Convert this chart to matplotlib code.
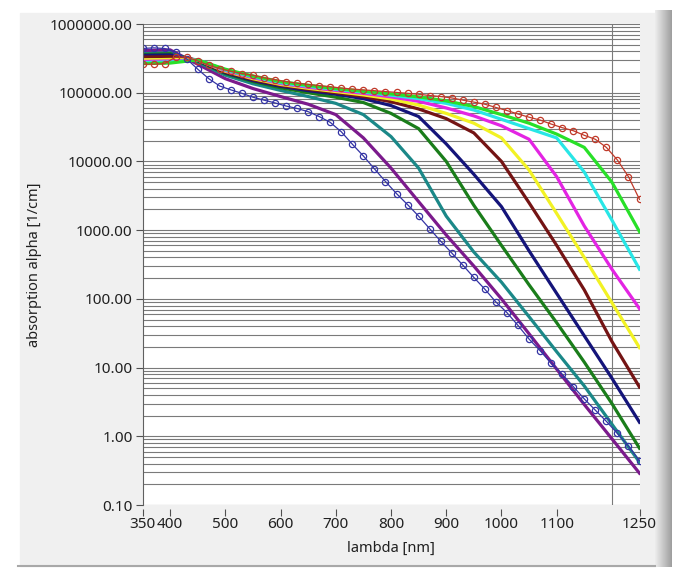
import numpy as np
import matplotlib
matplotlib.use("Agg")
import matplotlib.pyplot as plt
from matplotlib.patches import Rectangle
from matplotlib.lines import Line2D
from matplotlib.ticker import FixedLocator, FuncFormatter, NullFormatter

plt.rcParams['font.family'] = ['Noto Sans', 'DejaVu Sans']

# wavelength grids (nm)
lam50 = np.arange(350, 1251, 50)
lam20 = np.arange(350, 1251, 20)

# absorption curves on the 50 nm grid [1/cm]
lime = [2.65e5, 2.7e5, 3.0e5, 2.2e5, 1.75e5, 1.45e5, 1.28e5, 1.15e5, 1.05e5, 9.6e4,
        8.7e4, 7.6e4, 6.3e4, 4.8e4, 3.6e4, 2.5e4, 1.6e4, 5.0e3, 950]
cyan = [2.75e5, 2.8e5, 3.0e5, 2.15e5, 1.7e5, 1.4e5, 1.24e5, 1.12e5, 1.02e5, 9.2e4,
        8.2e4, 7.0e4, 5.6e4, 4.1e4, 3.0e4, 2.2e4, 7.0e3, 1.4e3, 270]
magenta = [2.85e5, 2.9e5, 3.0e5, 2.1e5, 1.65e5, 1.36e5, 1.2e5, 1.08e5, 9.8e4, 8.7e4,
           7.5e4, 6.0e4, 4.6e4, 3.3e4, 2.1e4, 6.0e3, 1.15e3, 270, 72]
yellow = [3.0e5, 3.05e5, 3.0e5, 2.05e5, 1.6e5, 1.32e5, 1.16e5, 1.04e5, 9.3e4, 8.1e4,
          6.6e4, 5.0e4, 3.6e4, 2.2e4, 7.5e3, 1.75e3, 400, 88, 19.5]
maroon = [3.3e5, 3.35e5, 3.0e5, 2.0e5, 1.55e5, 1.28e5, 1.12e5, 1.0e5, 8.8e4, 7.4e4,
          5.8e4, 4.2e4, 2.6e4, 1.0e4, 2.5e3, 600, 135, 24, 5.2]
navy = [3.5e5, 3.55e5, 2.95e5, 1.95e5, 1.5e5, 1.24e5, 1.07e5, 9.5e4, 8.2e4, 6.5e4,
        4.5e4, 1.8e4, 6.5e3, 2.2e3, 500, 120, 29, 7.0, 1.6]
green = [3.6e5, 3.7e5, 2.9e5, 1.9e5, 1.45e5, 1.18e5, 1.0e5, 8.6e4, 7.2e4, 5.0e4,
         3.0e4, 1.0e4, 2.3e3, 600, 160, 45, 12, 3.0, 0.67]
teal = [3.7e5, 3.8e5, 2.8e5, 1.8e5, 1.35e5, 1.08e5, 8.8e4, 7.0e4, 4.8e4, 2.3e4,
        8.0e3, 1.6e3, 480, 175, 55, 17, 5.4, 1.5, 0.42]
purple = [4.1e5, 4.2e5, 2.6e5, 1.6e5, 1.15e5, 8.8e4, 6.8e4, 4.8e4, 2.2e4, 8.0e3,
          2.6e3, 850, 300, 100, 31, 9.5, 2.9, 0.92, 0.29]

# curves with markers on the 20 nm grid
red_circ = [2.6e5, 2.6e5, 2.65e5, 3.3e5, 3.3e5, 2.9e5, 2.5e5, 2.25e5, 2.05e5, 1.9e5,
            1.8e5, 1.65e5, 1.55e5, 1.45e5, 1.38e5, 1.32e5, 1.27e5, 1.22e5, 1.17e5, 1.13e5,
            1.1e5, 1.07e5, 1.04e5, 1.01e5, 9.8e4, 9.5e4, 9.1e4, 8.8e4, 8.4e4, 7.8e4,
            7.3e4, 6.8e4, 6.1e4, 5.5e4, 4.9e4, 4.4e4, 4.0e4, 3.5e4, 3.1e4, 2.8e4,
            2.4e4, 2.1e4, 1.6e4, 1.05e4, 6.0e3, 2.8e3]
blue_circ = [4.4e5, 4.5e5, 4.4e5, 3.9e5, 3.1e5, 2.2e5, 1.6e5, 1.25e5, 1.1e5, 9.8e4,
             8.6e4, 7.8e4, 7.1e4, 6.4e4, 5.9e4, 5.3e4, 4.5e4, 3.7e4, 2.7e4, 1.78e4,
             1.2e4, 7.8e3, 5.1e3, 3.4e3, 2.35e3, 1.6e3, 1.05e3, 690, 465, 310,
             205, 138, 90, 63, 41, 26, 17.6, 11.6, 8.0, 5.3,
             3.5, 2.4, 1.65, 1.1, 0.72, 0.44]

thick_curves = [
    (purple, '#7b1a8c'),
    (teal, '#1b8888'),
    (green, '#1a7d1a'),
    (navy, '#14147a'),
    (maroon, '#741414'),
    (yellow, '#f2f224'),
    (magenta, '#e324e3'),
    (cyan, '#28e6e6'),
    (lime, '#28e028'),
]

xticks = [350, 400, 500, 600, 700, 800, 900, 1000, 1100, 1250]
xgrid = [400, 500, 600, 700, 800, 900, 1000, 1100, 1200]
yticks = [0.1, 1, 10, 100, 1e3, 1e4, 1e5, 1e6]
yminor = [m * d for d in yticks[:-1] for m in range(2, 10)]

W, H = 675, 572
fig = plt.figure(figsize=(W / 100, H / 100), dpi=100, facecolor='white')

# window panel background
fig.patches.append(Rectangle((20 / W, 1 - 566 / H), 635 / W, 553 / H,
                             transform=fig.transFigure, color='#f0f0f0', zorder=-10))
fig.lines.append(Line2D([18 / W, 655 / W], [1 - 566 / H, 1 - 566 / H],
                        transform=fig.transFigure, color='#a8a8a8', lw=1.5))
bar = fig.add_axes([655 / W, 1 - 567 / H, 17 / W, 557 / H])
bar.imshow(np.linspace(0.93, 0.62, 50)[None, :], aspect='auto', cmap='gray', vmin=0, vmax=1)
bar.axis('off')

ax = fig.add_axes([142.5 / W, 1 - 505 / H, 497 / W, 481 / H])
ax.set_facecolor('white')

for vals, col in thick_curves:
    ax.plot(lam50, vals, color=col, lw=2.3, solid_joinstyle='round')
ax.plot(lam20, blue_circ, color='#3434a4', lw=0.9, marker='o', ms=4.5,
        mfc='none', mec='#3434a4', mew=0.9)
ax.plot(lam20, red_circ, color='#c03a2a', lw=0.9, marker='o', ms=4.5,
        mfc='none', mec='#c03a2a', mew=0.9)

ax.set_yscale('log')
ax.set_xlim(350, 1250)
ax.set_ylim(0.1, 1e6)

ax.xaxis.set_major_locator(FixedLocator(xticks))
ax.xaxis.set_minor_locator(FixedLocator(xgrid))
ax.yaxis.set_major_locator(FixedLocator(yticks))
ax.yaxis.set_minor_locator(FixedLocator(yminor))
ax.yaxis.set_major_formatter(FuncFormatter(lambda v, p: f'{v:.2f}'))
ax.yaxis.set_minor_formatter(NullFormatter())

ax.grid(False)
ax.grid(True, which='minor', axis='x', color='#7a7a7a', lw=0.8)
ax.grid(True, which='both', axis='y', color='#7a7a7a', lw=0.8)
ax.set_axisbelow(True)

for s in ['top', 'right', 'bottom']:
    ax.spines[s].set_visible(False)
ax.spines['bottom'].set_position(('outward', 3))
ax.spines['left'].set_color('#606060')
ax.spines['left'].set_linewidth(0.8)

ax.tick_params(axis='x', which='major', direction='out', length=5, width=0.8,
               color='#505050', labelsize=11, labelcolor='#202020', pad=1)
ax.tick_params(axis='x', which='minor', length=0)
ax.tick_params(axis='y', which='major', direction='out', length=5, width=0.8,
               color='#505050', labelsize=11, labelcolor='#202020', pad=2)
ax.tick_params(axis='y', which='minor', length=0)

ax.set_xlabel('lambda [nm]', fontsize=10.5, color='#202020', labelpad=6)
ax.set_ylabel('absorption alpha [1/cm]', fontsize=10.5, color='#202020', labelpad=6)

fig.savefig('out.png', dpi=100, facecolor='white')
